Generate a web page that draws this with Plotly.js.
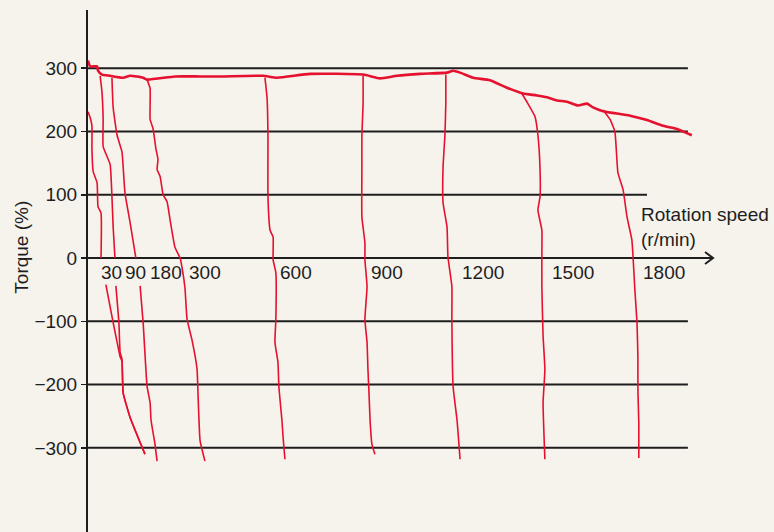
<!DOCTYPE html>
<html>
<head>
<meta charset="utf-8">
<script src="https://cdn.plot.ly/plotly-3.0.1.min.js"></script>
<style>
  html, body { margin: 0; padding: 0; background: #f6f3ec; }
  #chart { width: 774px; height: 532px; }
</style>
</head>
<body>
<div id="chart"></div>
<script>
// ---- Data (rotation speed r/min, torque %) ----
const speedLabels = ['30', '90', '180', '300', '600', '900', '1200', '1500', '1800'];
const speedLabelValues = [30, 90, 180, 300, 600, 900, 1200, 1500, 1800];
const torqueTicks = [300, 200, 100, 0, -100, -200, -300];

// Maximum-torque envelope
const envSpeed  = [0, 7, 30, 33, 46, 73, 116, 139, 182, 195, 287, 370, 436, 578, 624, 733, 908, 964, 1020, 1096, 1185, 1205, 1228, 1271, 1327, 1383, 1436, 1482, 1515, 1548, 1581, 1617, 1647, 1667, 1700, 1789, 1845, 1898, 1944, 1993];
const envTorque = [312, 303, 303, 296, 290, 288, 285, 288, 285, 282, 287, 287, 287, 288, 285, 291, 290, 284, 288, 291, 293, 296, 293, 285, 281, 269, 260, 257, 254, 249, 247, 241, 244, 238, 232, 225, 218, 209, 204, 194];

// Speed curves (null = break where the label sits)
const speed30  = [0, 7, 13, 13, 17, 30, 33, 43, 43, null, 59, 83, 96, 106, 112, 116, 139, 188];
const torque30 = [231, 222, 209, 173, 137, 119, 81, 71, 0, null, -42, -102, -133, -156, -163, -213, -252, -310];

const speed90  = [40, 46, 50, 50, 73, 79, 83, 89, null, 92, 102, 106, 112, 116, 139, 188];
const torque90 = [288, 263, 219, 176, 148, 97, 49, 0, null, -44, -102, -149, -159, -213, -252, -310];

const speed180  = [79, 83, 96, 112, 122, 139, 158, null, 172, 182, 195, 205, 208, 221, 228];
const torque180 = [285, 238, 194, 168, 103, 56, 0, null, -44, -102, -203, -229, -256, -294, -321];

const speed300  = [195, 205, 205, 215, 224, 231, 228, 238, 248, 261, 271, 287, 304, 310, 320, 327, 343, 360, 363, 370, 386];
const torque300 = [282, 268, 219, 204, 173, 156, 140, 129, 100, 89, 60, 17, 0, -14, -47, -97, -129, -176, -213, -289, -321];

const speed600  = [584, 591, 594, 594, 601, 611, 611, 620, 620, 617, 627, 630, 640, 644, 650];
const torque600 = [285, 253, 194, 97, 44, 33, -3, -23, -97, -133, -165, -203, -256, -284, -318];

const speed900  = [908, 908, 904, 904, 904, 914, 914, 921, 914, 921, 924, 927, 931, 937, 947];
const torque900 = [288, 244, 194, 145, 65, 24, -3, -45, -97, -133, -176, -208, -256, -294, -310];

const speed1200  = [1181, 1181, 1178, 1172, 1172, 1185, 1188, 1201, 1201, 1205, 1218, 1228];
const torque1200 = [290, 244, 194, 145, 87, 49, 2, -45, -97, -203, -256, -318];

const speed1500  = [1432, 1452, 1475, 1485, 1492, 1492, 1485, 1498, 1498, 1498, 1502, 1508, 1502, 1508];
const torque1500 = [260, 244, 224, 194, 140, 97, 76, 44, 2, -45, -123, -176, -229, -318];

const speed1800  = [1700, 1723, 1739, 1749, 1766, 1779, 1795, 1799, 1805, 1812, 1815, 1815, 1818, 1818];
const torque1800 = [234, 219, 200, 135, 108, 65, 29, 2, -50, -102, -156, -208, -261, -316];

// ---- Styling ----
const RED = '#e5112f';
const INK = '#1e1e1e';
const FONT = 'Liberation Sans, Arial, Helvetica, sans-serif';
const FS = 19;

const curves = [
  [speed30, torque30], [speed90, torque90], [speed180, torque180], [speed300, torque300],
  [speed600, torque600], [speed900, torque900], [speed1200, torque1200],
  [speed1500, torque1500], [speed1800, torque1800]
];

const traces = curves.map(([x, y]) => ({
  x: x, y: y, type: 'scatter', mode: 'lines', connectgaps: false,
  line: { color: RED, width: 1.6, shape: 'spline', smoothing: 0.4 },
  hoverinfo: 'skip', showlegend: false
}));
traces.push({
  x: envSpeed, y: envTorque, type: 'scatter', mode: 'lines',
  line: { color: RED, width: 2.6, shape: 'spline', smoothing: 0.5 },
  hoverinfo: 'skip', showlegend: false
});

// Horizontal reference lines
const shapes = torqueTicks.map(t => ({
  type: 'line', layer: 'below', xref: 'x', yref: 'y',
  x0: 0, x1: (t === 100 ? 1845 : (t === 0 ? 2063 : 1980)), y0: t, y1: t,
  line: { color: INK, width: 2 }
}));
// Arrow head on the speed axis
shapes.push({
  type: 'path', layer: 'below', xref: 'x', yref: 'y',
  xsizemode: 'pixel', ysizemode: 'pixel', xanchor: 2063, yanchor: 0,
  path: 'M-8,6 L0,0 L-8,-6',
  line: { color: INK, width: 2 }
});

const labelShift = { '30': 2, '90': 8, '180': 5 };
const annotations = speedLabels.map((s, i) => ({
  x: speedLabelValues[i], y: 0, xref: 'x', yref: 'y',
  text: s, showarrow: false, xanchor: 'left', yanchor: 'middle',
  xshift: (labelShift[s] !== undefined ? labelShift[s] : 8), yshift: -14,
  font: { family: FONT, size: FS, color: INK }
}));
annotations.push({
  x: 1818, y: 49, xref: 'x', yref: 'y', text: 'Rotation speed<br>(r/min)',
  showarrow: false, xanchor: 'left', yanchor: 'middle', align: 'left',
  font: { family: FONT, size: FS, color: INK }
});
annotations.push({
  x: -0.098, y: 0.545, xref: 'paper', yref: 'paper', text: 'Torque (%)',
  textangle: -90, showarrow: false, xanchor: 'center', yanchor: 'middle',
  font: { family: FONT, size: FS, color: INK }
});

const layout = {
  width: 774, height: 532,
  margin: { l: 88, r: 4, t: 10, b: 0 },
  paper_bgcolor: '#f6f3ec', plot_bgcolor: '#f6f3ec',
  showlegend: false,
  xaxis: { range: [0, 2251], visible: false, fixedrange: true },
  yaxis: {
    range: [-433, 392], tickvals: torqueTicks,
    showgrid: false, zeroline: false,
    showline: true, linecolor: INK, linewidth: 2,
    ticks: 'outside', ticklen: 5, tickwidth: 1.5, tickcolor: INK,
    tickfont: { family: FONT, size: FS, color: INK },
    fixedrange: true
  },
  shapes: shapes,
  annotations: annotations
};

Plotly.newPlot('chart', traces, layout, { displayModeBar: false, staticPlot: true });
</script>
</body>
</html>
